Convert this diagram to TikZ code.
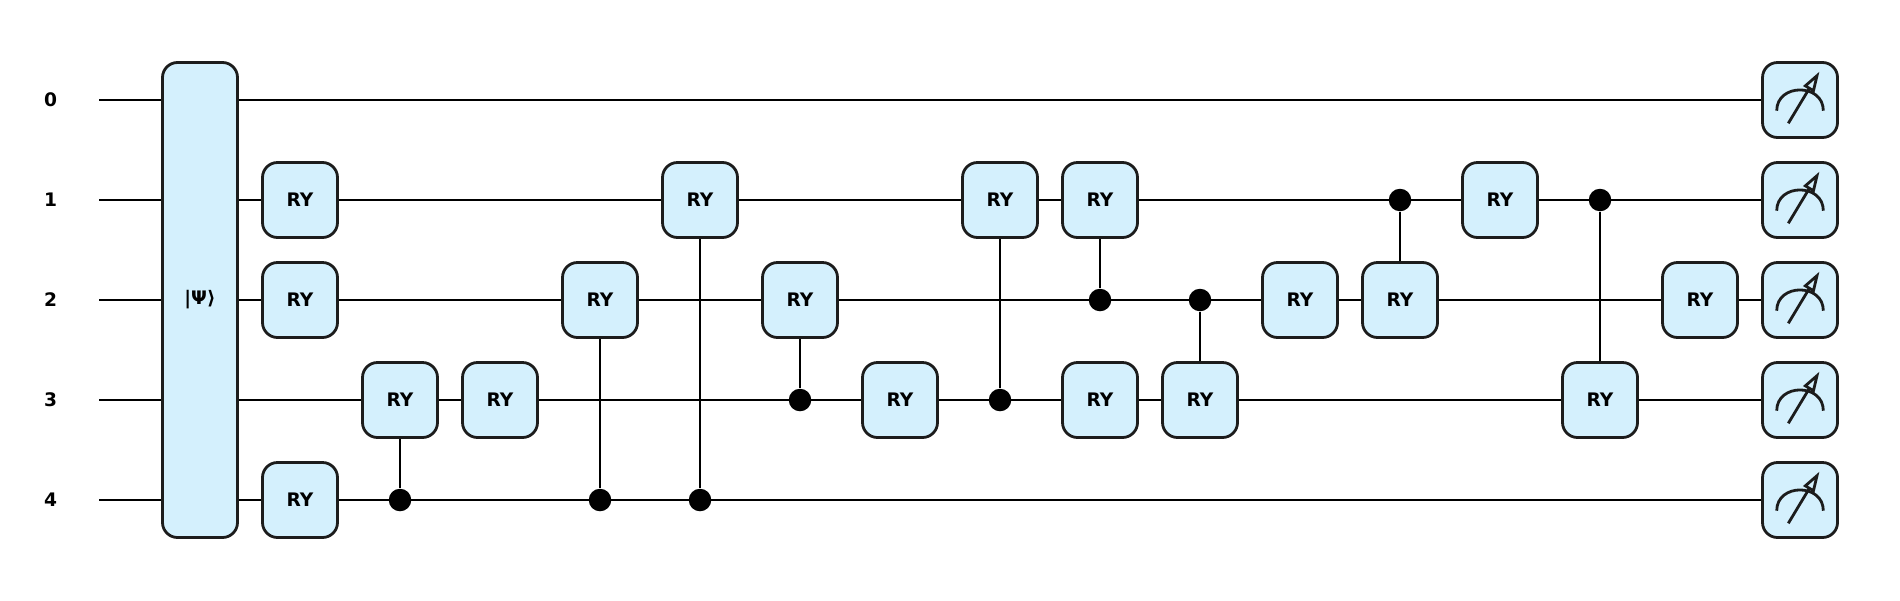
\documentclass[tikz,border=0pt]{standalone}
\usepackage{fontspec}
\setmainfont{DejaVu Sans}
\usetikzlibrary{arrows.meta,backgrounds}
\definecolor{gatefill}{HTML}{D4F0FD}
\definecolor{gateline}{HTML}{1C1C1C}
\tikzset{
  wire/.style={line width=0.021cm,black},
  gate/.style={draw=gateline,fill=gatefill,line width=0.028cm,rounded corners=0.15cm,
    minimum size=0.75cm,inner sep=0pt,font=\fontsize{5.3}{6}\selectfont\bfseries},
  ctrl/.style={circle,fill=black,minimum size=0.225cm,inner sep=0pt},
  qlabel/.style={inner sep=0pt,font=\fontsize{5.3}{6}\selectfont\bfseries},
  meter/.pic={
    \draw[gateline,line width=0.028cm] (-.233,.107) .. controls (-.233,-.17) and (.233,-.17) .. (.233,.107);
    \draw[gateline,line width=0.028cm,-{Triangle[open,length=0.21cm,width=0.125cm]}] (-.117,.233) -- (.195,-.285);
  }
}
\begin{document}
\begin{tikzpicture}[x=1cm,y=-1cm]
  \useasboundingbox (0,0) rectangle (19,6);
  \node[qlabel] (q0) at (0.507,1) {0};
  \node[qlabel] (q1) at (0.507,2) {1};
  \node[qlabel] (q2) at (0.507,3) {2};
  \node[qlabel] (q3) at (0.507,4) {3};
  \node[qlabel] (q4) at (0.507,5) {4};
  \coordinate (w0) at (0.99,1);
  \coordinate (w1) at (0.99,2);
  \coordinate (w2) at (0.99,3);
  \coordinate (w3) at (0.99,4);
  \coordinate (w4) at (0.99,5);
  \node[gate,minimum height=4.75cm] (psi) at (2,3) {|Ψ⟩};
  \node[gate] (a1) at (3,2) {RY};
  \node[gate] (a2) at (3,3) {RY};
  \node[gate] (a4) at (3,5) {RY};
  \node[gate] (b3) at (4,4) {RY};
  \node[ctrl] (b4) at (4,5) {};
  \node[gate] (c3) at (5,4) {RY};
  \node[gate] (d2) at (6,3) {RY};
  \node[ctrl] (d4) at (6,5) {};
  \node[gate] (e1) at (7,2) {RY};
  \node[ctrl] (e4) at (7,5) {};
  \node[gate] (f2) at (8,3) {RY};
  \node[ctrl] (f3) at (8,4) {};
  \node[gate] (g3) at (9,4) {RY};
  \node[gate] (h1) at (10,2) {RY};
  \node[ctrl] (h3) at (10,4) {};
  \node[gate] (i1) at (11,2) {RY};
  \node[ctrl] (i2) at (11,3) {};
  \node[gate] (i3) at (11,4) {RY};
  \node[ctrl] (j2) at (12,3) {};
  \node[gate] (j3) at (12,4) {RY};
  \node[gate] (k2) at (13,3) {RY};
  \node[ctrl] (l1) at (14,2) {};
  \node[gate] (l2) at (14,3) {RY};
  \node[gate] (m1) at (15,2) {RY};
  \node[ctrl] (n1) at (16,2) {};
  \node[gate] (n3) at (16,4) {RY};
  \node[gate] (o2) at (17,3) {RY};
  \node[gate] (m0) at (18,1) {};
  \node[gate] (mm1) at (18,2) {};
  \node[gate] (mm2) at (18,3) {};
  \node[gate] (mm3) at (18,4) {};
  \node[gate] (mm4) at (18,5) {};
  \pic at (m0) {meter};
  \pic at (mm1) {meter};
  \pic at (mm2) {meter};
  \pic at (mm3) {meter};
  \pic at (mm4) {meter};
  \begin{pgfonlayer}{background}
    \draw[wire] (w0) -- (m0);
    \draw[wire] (w1) -- (mm1);
    \draw[wire] (w2) -- (mm2);
    \draw[wire] (w3) -- (mm3);
    \draw[wire] (w4) -- (mm4);
    \draw[wire] (b4) -- (b3);
    \draw[wire] (d4) -- (d2);
    \draw[wire] (e4) -- (e1);
    \draw[wire] (f3) -- (f2);
    \draw[wire] (h3) -- (h1);
    \draw[wire] (i2) -- (i1);
    \draw[wire] (j2) -- (j3);
    \draw[wire] (l1) -- (l2);
    \draw[wire] (n1) -- (n3);
  \end{pgfonlayer}
\end{tikzpicture}
\end{document}
